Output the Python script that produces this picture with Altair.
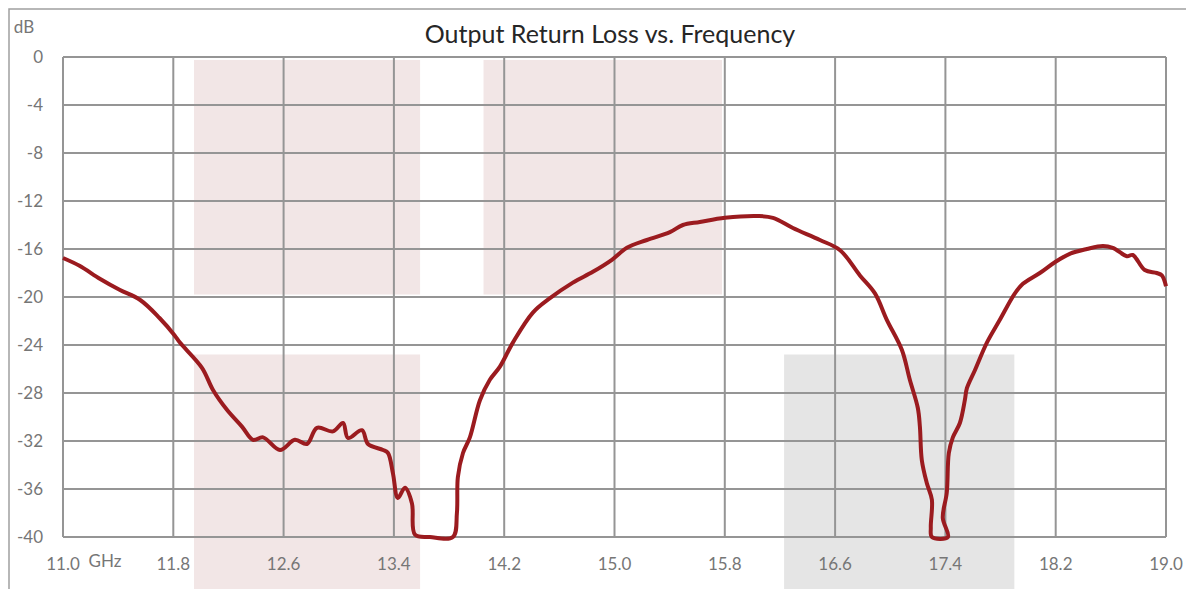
import altair as alt
import pandas as pd

# ---- data ----
freq = [11.0, 11.12, 11.27, 11.41, 11.56, 11.70, 11.81, 11.848, 12.008,
        12.088, 12.189, 12.298, 12.378, 12.451, 12.574, 12.682, 12.769, 12.842, 12.958,
        13.031, 13.067, 13.168, 13.212, 13.321, 13.357, 13.393, 13.429, 13.480, 13.531,
        13.553, 13.661, 13.828, 13.857, 13.864, 13.901, 13.951, 14.024, 14.096, 14.169,
        14.263, 14.408, 14.532, 14.698, 14.843, 14.981, 15.090, 15.235, 15.402, 15.496,
        15.619, 15.801, 16.040, 16.149, 16.294, 16.490, 16.636, 16.780, 16.889, 16.975,
        17.084, 17.142, 17.200, 17.215, 17.229, 17.265, 17.302, 17.294, 17.302, 17.418,
        17.381, 17.410, 17.425, 17.454, 17.505, 17.541, 17.556, 17.614, 17.701, 17.795,
        17.904, 17.962, 18.085, 18.194, 18.302, 18.426, 18.542, 18.614, 18.716, 18.759,
        18.846, 18.933, 18.970, 19.0]
loss = [-16.75, -17.4, -18.5, -19.4, -20.25, -21.75, -23.2, -23.8, -25.9,
        -27.75, -29.4, -30.8, -31.9, -31.7, -32.75, -31.9, -32.25, -30.9, -31.2,
        -30.5, -31.75, -31.1, -32.25, -32.75, -33.0, -34.7, -36.75, -35.9, -37.2,
        -39.8, -40.0, -40.0, -38.0, -35.0, -33.0, -31.7, -28.6, -26.9, -25.8,
        -23.8, -21.3, -20.1, -18.8, -17.9, -16.9, -15.9, -15.25, -14.6, -14.0,
        -13.75, -13.4, -13.25, -13.4, -14.25, -15.25, -16.1, -18.2, -19.7, -21.9,
        -24.4, -26.9, -29.25, -30.8, -33.6, -35.5, -36.9, -39.2, -40.0, -40.0,
        -38.4, -36.3, -33.0, -31.7, -30.5, -28.6, -27.6, -26.1, -23.8, -21.9,
        -19.7, -18.9, -18.0, -17.1, -16.4, -16.0, -15.75, -15.9, -16.6, -16.5,
        -17.75, -18.0, -18.2, -19.1]
step = list(range(len(freq)))

band_f1 = [11.95, 14.05, 11.95, 16.23]
band_f2 = [13.59, 15.78, 13.59, 17.90]
band_top = [-0.25, -0.25, -24.8, -24.8]
band_bot = [-19.8, -19.8, -46.0, -46.0]
band_kind = ["pink", "pink", "pink", "gray"]

x_ticks = [11.0, 11.8, 12.6, 13.4, 14.2, 15.0, 15.8, 16.6, 17.4, 18.2, 19.0]
x_labels = ["11.0", "11.8", "12.6", "13.4", "14.2", "15.0", "15.8", "16.6", "17.4",
            "18.2", "19.0"]
y_ticks = [0, -4, -8, -12, -16, -20, -24, -28, -32, -36, -40]
y_labels = ["0", "-4", "-8", "-12", "-16", "-20", "-24", "-28", "-32", "-36", "-40"]

title_text = "Output Return Loss vs. Frequency"
y_unit = "dB"
x_unit = "GHz"

FONT = "Lato"
LABEL = "#767676"
GRID = "#959595"

curve = pd.DataFrame({"f": freq, "db": loss, "i": step})
bands = pd.DataFrame({"f1": band_f1, "f2": band_f2, "top": band_top,
                      "bot": band_bot, "kind": band_kind})
xt = pd.DataFrame({"t": x_ticks, "lab": x_labels})
yt = pd.DataFrame({"t": y_ticks, "lab": y_labels})

xs = alt.Scale(domain=[11, 19], nice=False, zero=False)
ys = alt.Scale(domain=[-40, 0], nice=False, zero=False)

rects = alt.Chart(bands).mark_rect().encode(
    x=alt.X("f1:Q", scale=xs, axis=None),
    x2="f2:Q",
    y=alt.Y("top:Q", scale=ys, axis=None),
    y2="bot:Q",
    color=alt.Color("kind:N", scale=alt.Scale(domain=["pink", "gray"],
                                              range=["#f2e6e6", "#e5e5e5"]), legend=None),
)

vrules = alt.Chart(xt).mark_rule(color=GRID, strokeWidth=2).encode(
    x=alt.X("t:Q", scale=xs, axis=None))
hrules = alt.Chart(yt).mark_rule(color=GRID, strokeWidth=2).encode(
    y=alt.Y("t:Q", scale=ys, axis=None))

xlab = alt.Chart(xt).mark_text(font=FONT, fontSize=17, color=LABEL, align="center",
                               baseline="middle").encode(
    x=alt.X("t:Q", scale=xs, axis=None), y=alt.value(508), text="lab:N")
ylab = alt.Chart(yt).mark_text(font=FONT, fontSize=17, color=LABEL, align="right",
                               baseline="middle", dy=1).encode(
    y=alt.Y("t:Q", scale=ys, axis=None), x=alt.value(-20), text="lab:N")

line = alt.Chart(curve).mark_line(color="#9b1b1f", strokeWidth=4,
                                  interpolate="catmull-rom").encode(
    x=alt.X("f:Q", scale=xs, axis=None),
    y=alt.Y("db:Q", scale=ys, axis=None),
    order="i:Q",
)


def label(text, x, y, size, color, baseline="middle"):
    return alt.Chart(pd.DataFrame({"s": [text]})).mark_text(
        font=FONT, fontSize=size, color=color, align="center", baseline=baseline).encode(
        text="s:N", x=alt.value(x), y=alt.value(y))


db_text = label(y_unit, -39, -29, 17, LABEL)
ghz_text = label(x_unit, 42, 505, 17, LABEL)
title_mark = label(title_text, 547, -14, 25, "#262626", baseline="alphabetic")

frame = alt.Chart(pd.DataFrame({"s": [1]})).mark_rect(
    filled=False, stroke="#a0a0a0", strokeWidth=1.5).encode(
    x=alt.value(-54), x2=alt.value(1125), y=alt.value(-48), y2=alt.value(560))

chart = alt.layer(rects, vrules, hrules, line, xlab, ylab, db_text, ghz_text,
                  title_mark, frame).properties(
    width=1103, height=480,
    autosize=alt.AutoSizeParams(type="none"),
    padding={"left": 55, "top": 49, "right": 20, "bottom": 52},
).configure_view(stroke=None)

chart.save("out.html", embed_options={"renderer": "svg", "actions": False})
